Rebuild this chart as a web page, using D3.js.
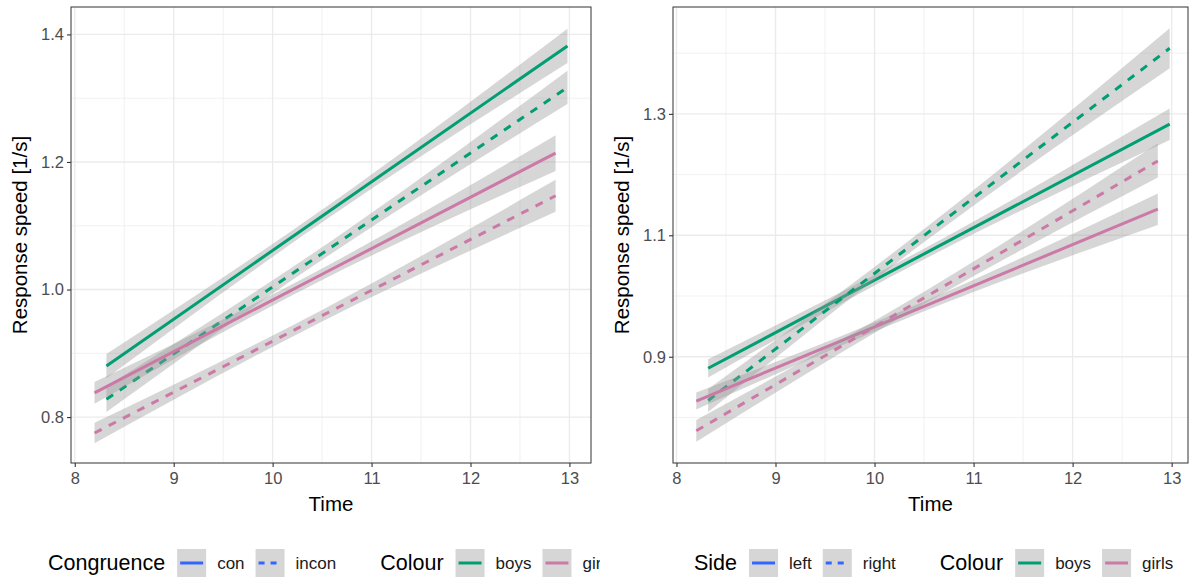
<!DOCTYPE html>
<html lang="en">
<head>
<meta charset="UTF-8">
<title>Response speed over time</title>
<script src="https://cdnjs.cloudflare.com/ajax/libs/d3/7.8.5/d3.min.js"></script>
<style>
    body { margin: 0; background: #fff; }
    svg { display: block; font-family: "Liberation Sans", Arial, sans-serif; }
    .grid-major { stroke: #ebebeb; stroke-width: 1.4; }
    .grid-minor { stroke: #ebebeb; stroke-width: 0.7; }
    .tick-label { fill: #4d4d4d; font-size: 16.5px; }
    .axis-title { fill: #000; font-size: 20.5px; }
    .legend-title { fill: #000; font-size: 21.5px; }
    .legend-label { fill: #1a1a1a; font-size: 17px; }
</style>
</head>
<body>
<div id="chart"></div>
<script>
// ---- data: rows are [time, fit, lower, upper] ----
const timeTicks = [8, 9, 10, 11, 12, 13];
const timeMinor = [8.5, 9.5, 10.5, 11.5, 12.5];
const leftYTicks = [0.8, 1.0, 1.2, 1.4];
const leftYMinor = [0.9, 1.1, 1.3];
const rightYTicks = [0.9, 1.1, 1.3];
const rightYMinor = [0.8, 1.0, 1.2, 1.4];

const colourLevels = ["boys", "girls"];
const colourValues = ["#009e73", "#cc79a7"];
const congruenceLevels = ["con", "incon"];
const sideLevels = ["left", "right"];

// Congruence panel
const congBoysCon    = [[8.32, 0.880, 0.861, 0.899], [10.6, 1.126, 1.116, 1.136], [12.98, 1.382, 1.355, 1.409]];
const congBoysIncon  = [[8.32, 0.828, 0.808, 0.848], [10.6, 1.067, 1.057, 1.077], [12.98, 1.317, 1.291, 1.343]];
const congGirlsCon   = [[8.20, 0.838, 0.821, 0.855], [10.5, 1.024, 1.015, 1.033], [12.86, 1.214, 1.186, 1.242]];
const congGirlsIncon = [[8.20, 0.775, 0.759, 0.791], [10.5, 0.959, 0.950, 0.968], [12.86, 1.147, 1.122, 1.172]];

// Side panel
const sideBoysLeft   = [[8.32, 0.881, 0.866, 0.896], [10.6, 1.078, 1.069, 1.087], [12.98, 1.283, 1.257, 1.309]];
const sideBoysRight  = [[8.32, 0.828, 0.809, 0.847], [10.6, 1.112, 1.101, 1.123], [12.98, 1.408, 1.375, 1.441]];
const sideGirlsLeft  = [[8.20, 0.827, 0.813, 0.841], [10.5, 0.983, 0.975, 0.991], [12.86, 1.143, 1.117, 1.169]];
const sideGirlsRight = [[8.20, 0.778, 0.760, 0.796], [10.5, 0.997, 0.987, 1.007], [12.86, 1.2225, 1.195, 1.251]];

const W = 1190, H = 580;
const svg = d3.select("#chart").append("svg").attr("width", W).attr("height", H);

const colour = d3.scaleOrdinal().domain(colourLevels).range(colourValues);
const dashFor = d => d === 1 ? "8,8" : null;

function panel(opts) {
    const g = svg.append("g").attr("clip-path", `url(#${opts.id}-clip)`);
    svg.append("clipPath").attr("id", opts.id + "-clip")
        .append("rect").attr("x", opts.clipX).attr("y", 0).attr("width", 600).attr("height", H);

    const x = d3.scaleLinear().domain(opts.xDomain).range([opts.left, opts.right]);
    const y = d3.scaleLinear().domain(opts.yDomain).range([463, 7]);

    // grid
    g.selectAll(".gy-minor").data(opts.yMinor).enter().append("line")
        .attr("class", "grid-minor")
        .attr("x1", opts.left).attr("x2", opts.right)
        .attr("y1", d => y(d)).attr("y2", d => y(d));
    g.selectAll(".gx-minor").data(timeMinor).enter().append("line")
        .attr("class", "grid-minor")
        .attr("x1", d => x(d)).attr("x2", d => x(d))
        .attr("y1", 7).attr("y2", 463);
    g.selectAll(".gy-major").data(opts.yTicks).enter().append("line")
        .attr("class", "grid-major")
        .attr("x1", opts.left).attr("x2", opts.right)
        .attr("y1", d => y(d)).attr("y2", d => y(d));
    g.selectAll(".gx-major").data(timeTicks).enter().append("line")
        .attr("class", "grid-major")
        .attr("x1", d => x(d)).attr("x2", d => x(d))
        .attr("y1", 7).attr("y2", 463);

    // ribbons + fitted lines, one group at a time like geom_smooth
    const area = d3.area().curve(d3.curveNatural)
        .x(d => x(d[0])).y0(d => y(d[2])).y1(d => y(d[3]));
    const line = d3.line().x(d => x(d[0])).y(d => y(d[1]));

    opts.series.forEach(s => {
        g.append("path").attr("d", area(s.rows))
            .attr("fill", "#999999").attr("fill-opacity", 0.4);
        g.append("path").attr("d", line(s.rows))
            .attr("fill", "none")
            .attr("stroke", colour(s.colour))
            .attr("stroke-width", 3)
            .attr("stroke-dasharray", dashFor(s.type));
    });

    // border
    g.append("rect")
        .attr("x", opts.left).attr("y", 7)
        .attr("width", opts.right - opts.left).attr("height", 456)
        .attr("fill", "none").attr("stroke", "#333").attr("stroke-width", 1);

    // axes
    const xAxis = g.append("g").attr("transform", "translate(0,463)")
        .call(d3.axisBottom(x).tickValues(timeTicks).tickSize(4).tickFormat(d3.format("d")));
    const yAxis = g.append("g").attr("transform", `translate(${opts.left},0)`)
        .call(d3.axisLeft(y).tickValues(opts.yTicks).tickSize(4).tickFormat(d3.format(".1f")));
    [xAxis, yAxis].forEach(a => {
        a.attr("font-size", null).attr("font-family", null);
        a.select(".domain").remove();
        a.selectAll(".tick line").attr("stroke", "#333").attr("stroke-width", 1.1);
        a.selectAll(".tick text").attr("class", "tick-label").attr("fill", null);
    });
    xAxis.selectAll(".tick text").attr("y", 9).attr("dy", "0.71em");
    yAxis.selectAll(".tick text").attr("x", -7);

    g.append("text").attr("class", "axis-title")
        .attr("x", (opts.left + opts.right) / 2).attr("y", 511)
        .attr("text-anchor", "middle").text("Time");
    g.append("text").attr("class", "axis-title")
        .attr("transform", `translate(${opts.yTitleX},235) rotate(-90)`)
        .attr("text-anchor", "middle").text("Response speed [1/s]");

    // legend
    const lg = g.append("g");
    let cx = opts.legendX;
    const ky = 549, kh = 28, kw = 29;
    const ty = 570;
    function title(txt) {
        const t = lg.append("text").attr("class", "legend-title").attr("x", cx).attr("y", ty).text(txt);
        cx += t.node().getComputedTextLength() + 12;
    }
    function key(stroke, dash, label) {
        lg.append("rect").attr("x", cx).attr("y", ky).attr("width", kw).attr("height", kh)
            .attr("fill", "#d6d6d6");
        lg.append("line").attr("x1", cx + 3).attr("x2", cx + kw - 3)
            .attr("y1", ky + kh / 2).attr("y2", ky + kh / 2)
            .attr("stroke", stroke).attr("stroke-width", 3)
            .attr("stroke-dasharray", dash);
        cx += kw + 11;
        const t = lg.append("text").attr("class", "legend-label").attr("x", cx).attr("y", ty - 1).text(label);
        cx += t.node().getComputedTextLength() + 11;
    }
    title(opts.typeTitle);
    opts.typeLevels.forEach((lv, i) => key("#3366ff", i === 1 ? "6,6" : null, lv));
    cx += 33;
    title("Colour");
    colourLevels.forEach(lv => key(colour(lv), null, lv));
}

panel({
    id: "cong", clipX: 0,
    left: 71, right: 591,
    xDomain: [7.962, 13.218], yDomain: [0.728, 1.443],
    yTicks: leftYTicks, yMinor: leftYMinor,
    yTitleX: 27, legendX: 48,
    typeTitle: "Congruence", typeLevels: congruenceLevels,
    series: [
        { rows: congBoysCon, colour: "boys", type: 0 },
        { rows: congBoysIncon, colour: "boys", type: 1 },
        { rows: congGirlsCon, colour: "girls", type: 0 },
        { rows: congGirlsIncon, colour: "girls", type: 1 }
    ]
});

panel({
    id: "side", clipX: 600,
    left: 673, right: 1188,
    xDomain: [7.965, 13.165], yDomain: [0.725, 1.476],
    yTicks: rightYTicks, yMinor: rightYMinor,
    yTitleX: 629, legendX: 694,
    typeTitle: "Side", typeLevels: sideLevels,
    series: [
        { rows: sideBoysLeft, colour: "boys", type: 0 },
        { rows: sideBoysRight, colour: "boys", type: 1 },
        { rows: sideGirlsLeft, colour: "girls", type: 0 },
        { rows: sideGirlsRight, colour: "girls", type: 1 }
    ]
});
</script>
</body>
</html>
